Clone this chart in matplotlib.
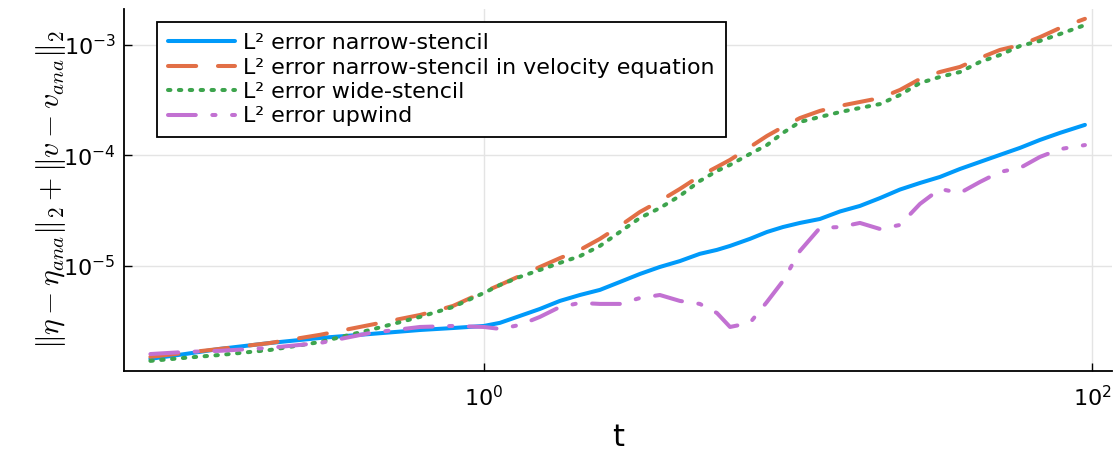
import matplotlib
matplotlib.use("Agg")
import matplotlib.pyplot as plt
from matplotlib.ticker import NullLocator, FixedLocator

plt.rcParams['font.family'] = ['DejaVu Sans']
plt.rcParams['mathtext.fontset'] = 'cm'

t = [0.08, 0.104, 0.1355, 0.198, 0.289, 0.422, 0.616, 0.791, 1.0, 1.129,
     1.313, 1.528, 1.778, 2.069, 2.408, 2.80, 3.26, 3.79, 4.41, 5.13,
     5.84, 6.45, 7.50, 8.53, 9.63, 10.95, 12.74, 14.83, 17.25, 20.08,
     23.36, 27.18, 31.6, 36.8, 42.8, 49.8, 58.0, 67.4, 78.5, 94.8]

err_narrow = [1.43e-6, 1.58e-6, 1.76e-6, 1.99e-6, 2.21e-6, 2.40e-6, 2.61e-6, 2.72e-6, 2.84e-6, 3.03e-6,
              3.50e-6, 4.05e-6, 4.79e-6, 5.42e-6, 6.03e-6, 7.11e-6, 8.41e-6, 9.73e-6, 1.10e-5, 1.28e-5,
              1.39e-5, 1.51e-5, 1.75e-5, 2.02e-5, 2.24e-5, 2.44e-5, 2.65e-5, 3.10e-5, 3.48e-5, 4.10e-5,
              4.90e-5, 5.62e-5, 6.37e-5, 7.53e-5, 8.72e-5, 1.01e-4, 1.17e-4, 1.38e-4, 1.60e-4, 1.89e-4]

err_narrow_vel = [1.49e-6, 1.62e-6, 1.76e-6, 1.99e-6, 2.36e-6, 2.90e-6, 3.57e-6, 4.31e-6, 5.78e-6, 6.68e-6,
                  8.07e-6, 9.73e-6, 1.17e-5, 1.39e-5, 1.75e-5, 2.29e-5, 3.07e-5, 3.86e-5, 4.96e-5, 6.50e-5,
                  7.85e-5, 9.10e-5, 1.19e-4, 1.50e-4, 1.81e-4, 2.18e-4, 2.53e-4, 2.81e-4, 3.05e-4, 3.31e-4,
                  3.92e-4, 4.93e-4, 5.70e-4, 6.34e-4, 7.64e-4, 9.04e-4, 1.00e-3, 1.18e-3, 1.43e-3, 1.73e-3]

err_wide = [1.37e-6, 1.46e-6, 1.55e-6, 1.72e-6, 2.03e-6, 2.61e-6, 3.43e-6, 4.22e-6, 5.66e-6, 6.68e-6,
            7.91e-6, 9.14e-6, 1.06e-5, 1.22e-5, 1.51e-5, 2.02e-5, 2.71e-5, 3.33e-5, 4.29e-5, 5.86e-5,
            7.22e-5, 8.20e-5, 1.03e-4, 1.24e-4, 1.60e-4, 2.01e-4, 2.23e-4, 2.47e-4, 2.69e-4, 2.92e-4,
            3.53e-4, 4.53e-4, 5.14e-4, 5.70e-4, 7.03e-4, 8.13e-4, 9.82e-4, 1.09e-3, 1.26e-3, 1.52e-3]

err_upwind = [1.58e-6, 1.65e-6, 1.69e-6, 1.80e-6, 1.99e-6, 2.45e-6, 2.78e-6, 2.84e-6, 2.78e-6, 2.67e-6,
              2.90e-6, 3.43e-6, 4.22e-6, 4.59e-6, 4.50e-6, 4.50e-6, 5.09e-6, 5.42e-6, 4.79e-6, 4.50e-6,
              3.72e-6, 2.78e-6, 3.03e-6, 4.69e-6, 7.26e-6, 1.36e-5, 2.20e-5, 2.24e-5, 2.44e-5, 2.15e-5,
              2.34e-5, 3.63e-5, 4.96e-5, 4.56e-5, 5.74e-5, 7.08e-5, 7.69e-5, 9.68e-5, 1.14e-4, 1.24e-4]

labels = ["L² error narrow-stencil",
          "L² error narrow-stencil in velocity equation",
          "L² error wide-stencil",
          "L² error upwind"]
colors = ["#009AFA", "#E26F46", "#3DA44D", "#C271D2"]
xticks = [1, 100]
yticks = [1e-5, 1e-4, 1e-3]

fig = plt.figure(figsize=(11.2, 4.51), dpi=100)
ax = fig.add_axes([0.1107, 0.1774, 0.8822, 0.8026])

lw = 2.9
ax.plot(t, err_narrow, color=colors[0], lw=lw, label=labels[0], solid_capstyle='round')
ax.plot(t, err_narrow_vel, color=colors[1], lw=lw, label=labels[1],
        linestyle=(0, (7, 5.4)), dash_capstyle='round')
ax.plot(t, err_wide, color=colors[2], lw=lw, label=labels[2],
        linestyle=(0, (0.6, 2.1)), dash_capstyle='round')
ax.plot(t, err_upwind, color=colors[3], lw=lw, label=labels[3],
        linestyle=(0, (6.9, 4.1, 0.8, 4.1)), dash_capstyle='round')

ax.set_xscale('log')
ax.set_yscale('log')
ax.set_xlim(0.0655, 116.4)
ax.set_ylim(1.109e-6, 2.123e-3)
ax.xaxis.set_major_locator(FixedLocator(xticks))
ax.yaxis.set_major_locator(FixedLocator(yticks))
ax.xaxis.set_minor_locator(NullLocator())
ax.yaxis.set_minor_locator(NullLocator())

ax.grid(True, color='#e4e4e4', linewidth=1.0)
ax.set_axisbelow(True)
for s in ['top', 'right']:
    ax.spines[s].set_visible(False)
for s in ['left', 'bottom']:
    ax.spines[s].set_linewidth(1.3)
ax.tick_params(axis='both', which='major', direction='in', length=6, width=1.0,
               labelsize=16, colors='black')
ax.tick_params(axis='x', pad=10)
ax.tick_params(axis='y', pad=6)

ax.set_xlabel('t', fontsize=22, labelpad=9)
ax.set_ylabel(r'$\Vert\eta - \eta_{ana}\Vert_2 + \Vert v - v_{ana}\Vert_2$', fontsize=21.5)
ax.yaxis.set_label_coords(-0.057, 0.5)

leg = ax.legend(loc='upper left', bbox_to_anchor=(0.0334, 0.964), borderaxespad=0,
                fontsize=15.9, frameon=True, fancybox=False, framealpha=1,
                edgecolor='black', handlelength=3.05, handletextpad=0.36,
                labelspacing=0.2, borderpad=0.5)
leg.get_frame().set_linewidth(1.3)

fig.savefig('out.png', dpi=100)
